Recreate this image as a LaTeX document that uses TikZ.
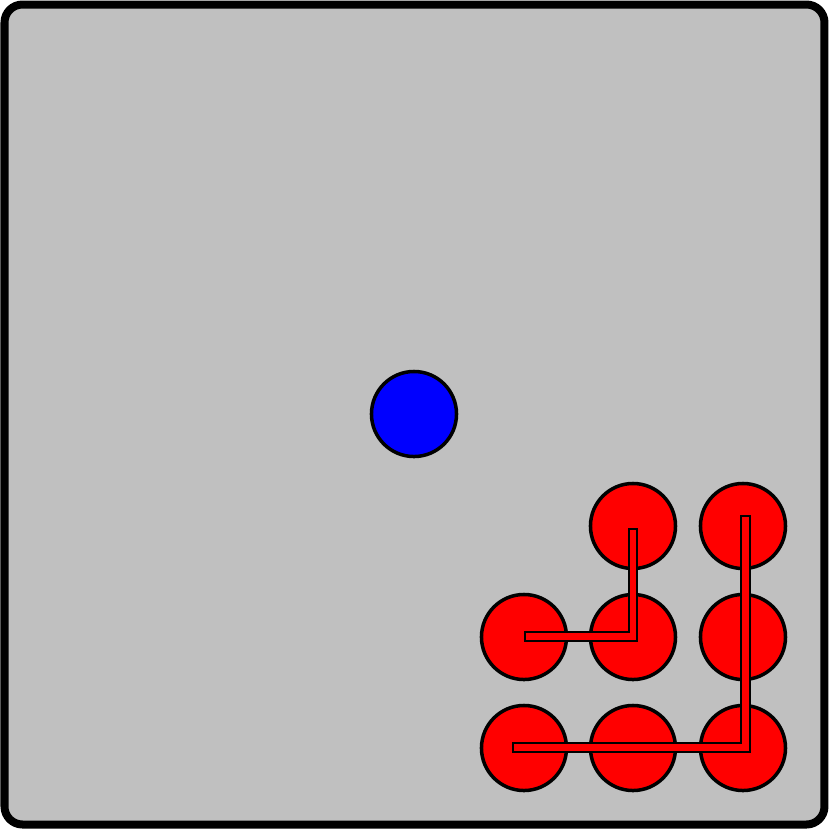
\documentclass[tikz,border=0pt]{standalone}
\begin{document}
\begin{tikzpicture}[x=0.01cm,y=-0.01cm,
  ball/.style={circle,draw=black,line width=0.035cm,minimum size=0.85cm,inner sep=0pt},
  redball/.style={ball,fill=red},
  blueball/.style={ball,fill=blue},
  bar/.style={fill=red,draw=black,line width=0.022cm}]
\useasboundingbox (0,0) rectangle (829,829);
\definecolor{bg}{RGB}{192,192,192}
\draw[fill=bg,line width=0.08cm,rounded corners=0.18cm] (4.5,4.5) rectangle (824.5,824.5);
\node[blueball] (b) at (414,414) {};
\node[redball] (r12) at (633,526) {};
\node[redball] (r13) at (743,526) {};
\node[redball] (r21) at (524,637) {};
\node[redball] (r22) at (633,637) {};
\node[redball] (r23) at (743,637) {};
\node[redball] (r31) at (524,748) {};
\node[redball] (r32) at (633,748) {};
\node[redball] (r33) at (743,748) {};
\draw[bar] (525,632) -- (629,632) -- (629,529) -- (637,529) -- (637,641) -- (525,641) -- cycle;
\draw[bar] (513,743) -- (741,743) -- (741,516) -- (750,516) -- (750,752) -- (513,752) -- cycle;
\end{tikzpicture}
\end{document}
